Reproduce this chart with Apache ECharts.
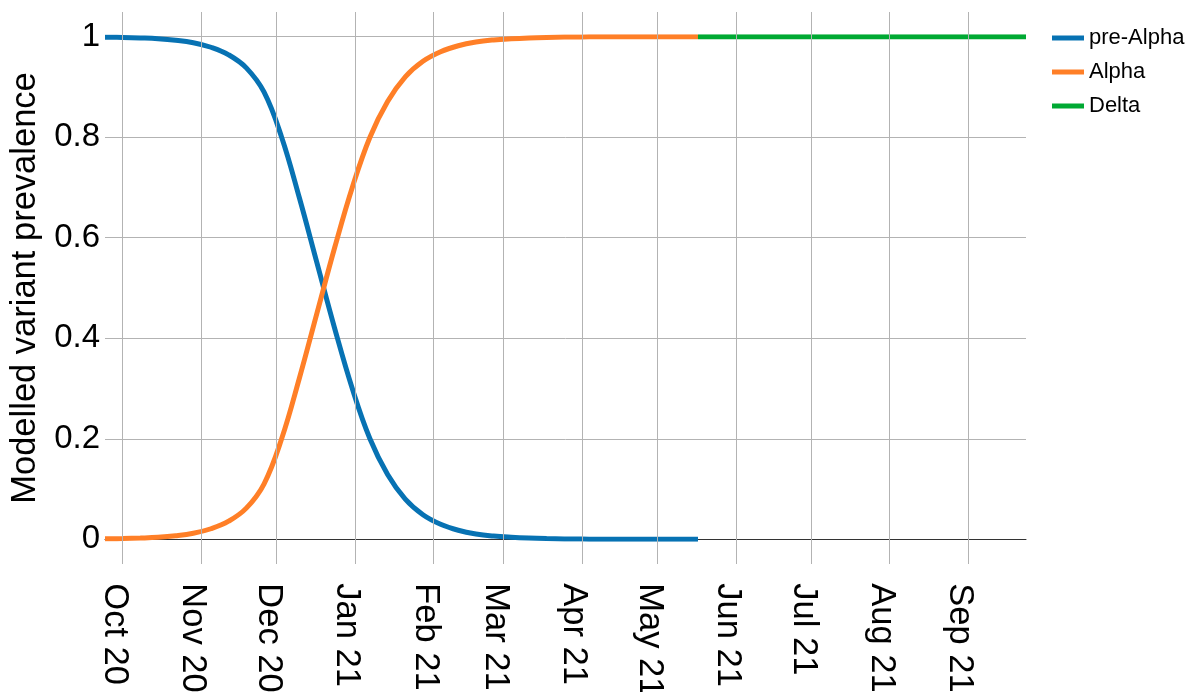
<!DOCTYPE html>
<html>
<head>
<meta charset="utf-8">
<script src="https://cdn.jsdelivr.net/npm/echarts@6/dist/echarts.min.js"></script>
<style>
html,body{margin:0;padding:0;background:#fff;}
#chart{width:1189px;height:692px;}
</style>
</head>
<body>
<div id="chart"></div>
<script>
// ---- data ----
const weekDates = ['2020-09-24','2020-10-01','2020-10-08','2020-10-15','2020-10-22','2020-10-29',
  '2020-11-05','2020-11-12','2020-11-19','2020-11-26','2020-12-03','2020-12-10','2020-12-17',
  '2020-12-24','2020-12-31','2021-01-07','2021-01-14','2021-01-21','2021-01-28','2021-02-04',
  '2021-02-11','2021-02-18','2021-02-25','2021-03-04','2021-03-11','2021-03-18','2021-03-25',
  '2021-04-01','2021-04-08','2021-04-15','2021-04-22','2021-04-29','2021-05-06','2021-05-13','2021-05-17'];
const preAlpha = [0.999,0.9985,0.9975,0.996,0.993,0.988,0.979,0.964,0.938,0.89,0.80,0.68,0.55,
  0.42,0.30,0.20,0.129,0.08,0.049,0.03,0.018,0.0106,0.0064,0.004,0.0024,0.0014,0.0008,
  0.0005,0,0,0,0,0,0,0];
const alpha = [0.001,0.0015,0.0025,0.004,0.007,0.012,0.021,0.036,0.062,0.11,0.20,0.32,0.45,
  0.58,0.70,0.80,0.871,0.92,0.951,0.97,0.982,0.9894,0.9936,0.996,0.9976,0.9986,0.9992,
  0.9995,1,1,1,1,1,1,1];
const deltaDates = ['2021-05-17','2021-09-24'];
const delta = [1,1];
const monthTicks = ['2020-10-01','2020-11-01','2020-12-01','2021-01-01','2021-02-01','2021-03-01',
  '2021-04-01','2021-05-01','2021-06-01','2021-07-01','2021-08-01','2021-09-01'];
const monthNames = ['Jan','Feb','Mar','Apr','May','Jun','Jul','Aug','Sep','Oct','Nov','Dec'];
const xStart = '2020-09-24', xEnd = '2021-09-24';

function ts(s){const p=s.split('-').map(Number);return Date.UTC(p[0],p[1]-1,p[2]);}
function pairs(d,v){return d.map((x,i)=>[ts(x),v[i]]);}
const tickTs = monthTicks.map(ts);

const font = '"Liberation Sans", Arial, sans-serif';
const cBlue = '#0772b3', cOrange = '#ff7f27', cGreen = '#00a933';

const chart = echarts.init(document.getElementById('chart'), null, {renderer:'canvas'});
chart.setOption({
  animation:false,
  backgroundColor:'#fff',
  textStyle:{fontFamily:font},
  grid:[
    {left:105, right:163, top:36.7, bottom:152.7, containLabel:false, outerBoundsMode:'none'},
    {left:105, right:163, top:12, bottom:128, containLabel:false, outerBoundsMode:'none'},
    {left:97, right:171, top:36.7, bottom:152.7, containLabel:false, outerBoundsMode:'none'}
  ],
  legend:{
    orient:'vertical', left:1047, top:22,
    itemWidth:32, itemHeight:5, itemGap:12,
    textStyle:{fontSize:22, color:'#000', fontFamily:font, lineHeight:22},
    data:[{name:'pre-Alpha',icon:'rect'},{name:'Alpha',icon:'rect'},{name:'Delta',icon:'rect'}]
  },
  xAxis:[
    {type:'value', gridIndex:0, min:ts(xStart), max:ts(xEnd), scale:true,
     axisLine:{show:true, onZero:false, lineStyle:{color:'#333', width:1}},
     axisTick:{show:false}, splitLine:{show:false}, axisLabel:{show:false}},
    {type:'value', gridIndex:1, min:ts(xStart), max:ts(xEnd), scale:true, show:false},
    {type:'value', gridIndex:2, min:ts(xStart), max:ts(xEnd), scale:true,
     axisLine:{show:false}, axisTick:{show:false}, splitLine:{show:false},
     axisLabel:{show:true, customValues:tickTs, rotate:-90, margin:44, fontSize:34.5, color:'#000',
       fontFamily:font, padding:[11,0,0,0], hideOverlap:false, showMinLabel:true, showMaxLabel:true,
       formatter:function(v){const d=new Date(v);return monthNames[d.getUTCMonth()]+' '+String(d.getUTCFullYear()%100).padStart(2,'0');}}
    }
  ],
  yAxis:[
    {type:'value', gridIndex:0, min:0, max:1, interval:0.2,
     name:'Modelled variant prevalence', nameLocation:'middle', nameRotate:90, nameGap:61,
     nameTextStyle:{fontSize:34.5, color:'#000', fontFamily:font},
     axisLine:{show:false}, axisTick:{show:false},
     axisLabel:{fontSize:33, color:'#000', margin:5, fontFamily:font},
     splitLine:{show:true, lineStyle:{color:'#b3b3b3', width:1}}
    },
    {type:'value', gridIndex:1, min:0, max:1, show:false},
    {type:'value', gridIndex:2, min:0, max:1, show:false}
  ],
  series:[
    {type:'line', xAxisIndex:1, yAxisIndex:1, data:[], silent:true, z:1,
     markLine:{silent:true, symbol:'none', label:{show:false},
       lineStyle:{color:'#b3b3b3', width:1, type:'solid'},
       data:tickTs.map(t=>({xAxis:t}))}},
    {name:'pre-Alpha', type:'line', data:pairs(weekDates,preAlpha), showSymbol:false, symbol:'none',
     smooth:0.4, color:cBlue, lineStyle:{color:cBlue, width:5}, z:3},
    {name:'Alpha', type:'line', data:pairs(weekDates,alpha), showSymbol:false, symbol:'none',
     smooth:0.4, color:cOrange, lineStyle:{color:cOrange, width:5}, z:4},
    {name:'Delta', type:'line', data:pairs(deltaDates,delta), showSymbol:false, symbol:'none',
     color:cGreen, lineStyle:{color:cGreen, width:5}, z:4}
  ]
});
</script>
</body>
</html>
